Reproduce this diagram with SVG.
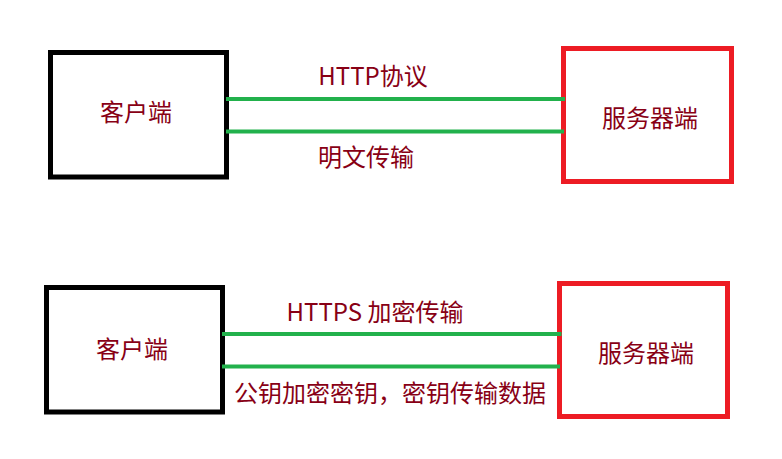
<svg xmlns="http://www.w3.org/2000/svg" width="782" height="459" viewBox="0 0 782 459">
<style>
.client{fill:#fff;stroke:#000;stroke-width:5}
.server{fill:#fff;stroke:#ED1C24;stroke-width:5}
.lbl{font-family:"Noto Sans CJK SC","Microsoft YaHei",sans-serif;font-size:24px;fill:#880015}
.link{stroke:#22B14C;stroke-width:4;fill:none}
</style>
<rect width="782" height="459" fill="#fff"/>
<g id="client1">
<rect class="client" x="50.5" y="52.5" width="176" height="124.5"/>
<text class="lbl" x="136" y="121" text-anchor="middle">客户端</text>
</g>
<g id="server1">
<rect class="server" x="563.5" y="48.5" width="168" height="133"/>
<text class="lbl" x="650" y="126.5" text-anchor="middle">服务器端</text>
</g>
<g id="client2">
<rect class="client" x="46.5" y="287.5" width="176" height="124.5"/>
<text class="lbl" x="132" y="357.5" text-anchor="middle">客户端</text>
</g>
<g id="server2">
<rect class="server" x="559.5" y="283.5" width="168" height="133"/>
<text class="lbl" x="646" y="361.5" text-anchor="middle">服务器端</text>
</g>
<g id="connectors">
<line class="link" x1="226" y1="99" x2="565" y2="99"/>
<line class="link" x1="226" y1="131.5" x2="564" y2="131.5"/>
<line class="link" x1="222" y1="334" x2="561.5" y2="334"/>
<line class="link" x1="222" y1="366.5" x2="560" y2="366.5"/>
</g>
<g id="labels">
<text class="lbl" x="373" y="85" text-anchor="middle">HTTP协议</text>
<text class="lbl" x="366" y="165.5" text-anchor="middle">明文传输</text>
<text class="lbl" x="375" y="321" text-anchor="middle">HTTPS 加密传输</text>
<text class="lbl" x="390" y="402" text-anchor="middle">公钥加密密钥，密钥传输数据</text>
</g>
</svg>
